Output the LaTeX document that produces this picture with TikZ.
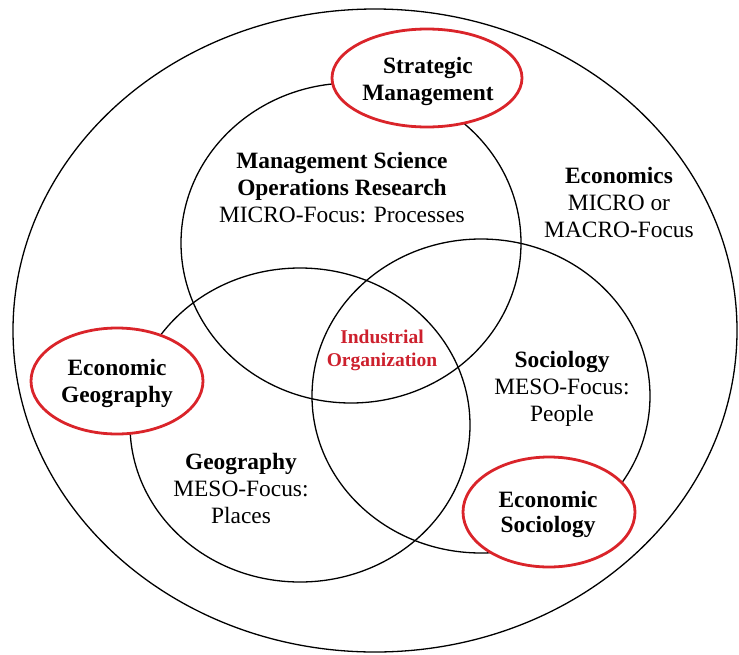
\documentclass[tikz,border=0pt]{standalone}
\usepackage{fontspec}
\setmainfont{Liberation Serif}
\usetikzlibrary{shapes.geometric}
\definecolor{ovalred}{RGB}{218,36,42}
\definecolor{iored}{RGB}{205,32,45}
\tikzset{
  ring/.style={draw=black, line width=1.3pt},
  redoval/.style={ellipse, draw=ovalred, fill=white, line width=2.8pt, inner sep=0pt},
  txt/.style={align=center, font=\fontsize{23.4}{27}\selectfont, inner sep=0pt},
  bigtxt/.style={align=center, font=\fontsize{23.4}{27}\selectfont\bfseries, inner sep=0pt},
}
\begin{document}
\begin{tikzpicture}[x=1pt,y=-1pt]
\useasboundingbox (0,0) rectangle (739,654);
% black circles
\draw[ring] (375,330.5) ellipse [x radius=362, y radius=321.5];
\draw[ring] (351,243) ellipse [x radius=170, y radius=160];
\draw[ring] (300,425) ellipse [x radius=170, y radius=157];
\draw[ring] (481,396) ellipse [x radius=169, y radius=157];
% red ovals
\node[redoval, minimum width=190pt, minimum height=98pt] (sm) at (427,78) {};
\node[redoval, minimum width=172pt, minimum height=106pt] (eg) at (117,381) {};
\node[redoval, minimum width=172pt, minimum height=110pt] (es) at (549,512) {};
% labels
\node[bigtxt] (smt) at (428,81) {Strategic\\Management};
\node[txt] (ms) at (342,188) {\textbf{Management Science}\\\textbf{Operations Research}\\MICRO-Focus: Processes};
\node[txt] (ec) at (619,202.5) {\textbf{Economics}\\MICRO or\\MACRO-Focus};
\node[align=center, inner sep=0pt, text=iored, font=\fontsize{19.5}{23}\selectfont\bfseries] (io) at (382,350) {Industrial\\Organization};
\node[bigtxt] (egt) at (117,383) {Economic\\Geography};
\node[txt] (so) at (562,389) {\textbf{Sociology}\\MESO-Focus:\\People};
\node[txt] (ge) at (241,488.5) {\textbf{Geography}\\MESO-Focus:\\Places};
\node[bigtxt, font=\fontsize{23.4}{25}\selectfont\bfseries] (est) at (548,514) {Economic\\Sociology};
\end{tikzpicture}
\end{document}
